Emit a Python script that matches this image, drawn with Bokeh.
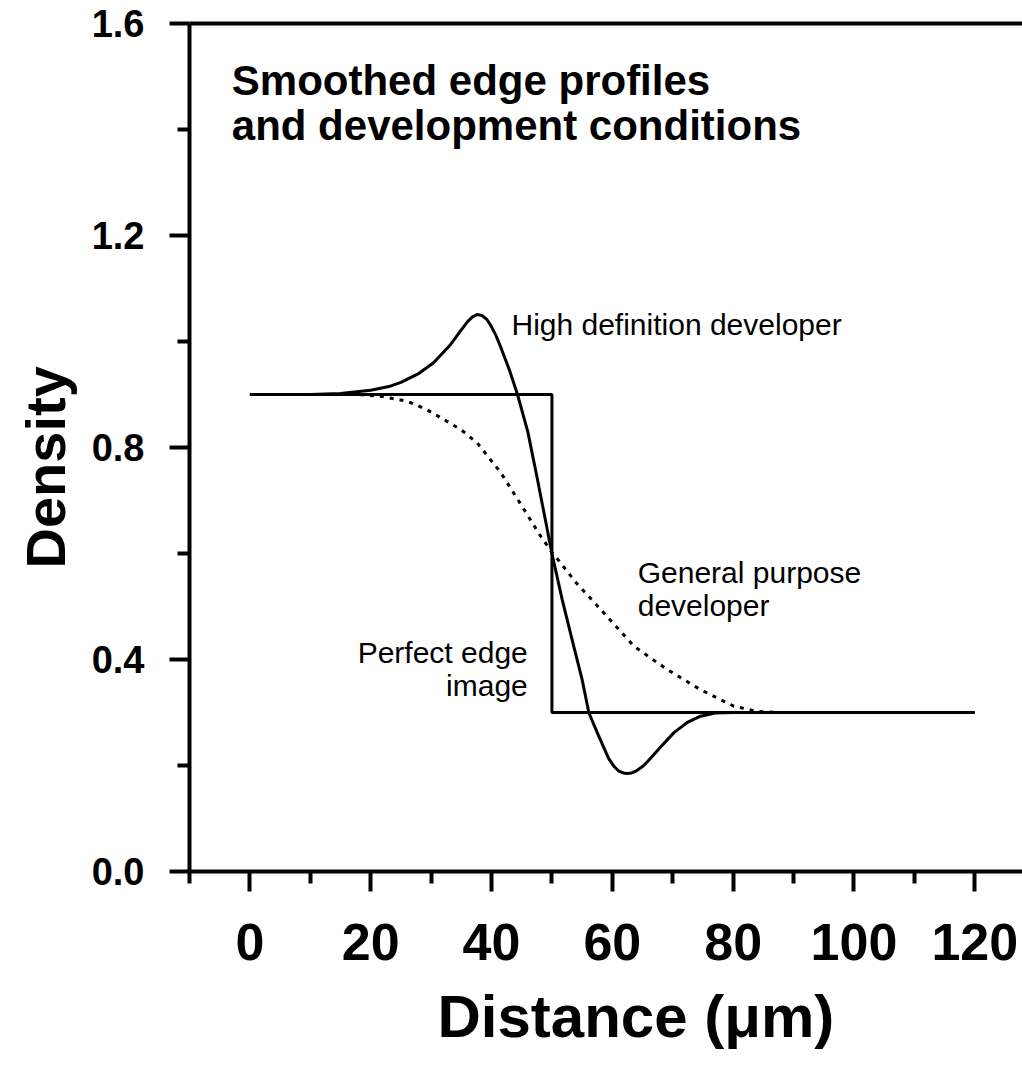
from bokeh.plotting import figure
from bokeh.models import FixedTicker, LinearAxis, Range1d, Label, Title, NumeralTickFormatter
from bokeh.embed import file_html
from bokeh.resources import INLINE

# ---- data ----
step_x = [0, 50, 50, 120]
step_y = [0.9, 0.9, 0.3, 0.3]

hd_x = [0, 10, 15, 20, 23, 25, 28, 30.4, 33.2, 35, 36, 36.8, 37.6, 38.4, 39.2, 39.9, 40.7, 41.5, 43, 44.3, 46, 47.6,
        50, 51.7, 53.5, 55, 56.1, 57.5, 58.5, 59.4, 60.3, 61, 61.8, 62.5, 63.2, 64, 65, 65.8, 68, 70.2, 72.5, 74.6,
        77, 80, 120]
hd_y = [0.9, 0.9, 0.902, 0.908, 0.915, 0.923, 0.94, 0.96, 0.994, 1.022, 1.037, 1.046, 1.051, 1.049, 1.042, 1.03,
        1.012, 0.99, 0.945, 0.9, 0.83, 0.74,
        0.6, 0.513, 0.43, 0.362, 0.30, 0.262, 0.236, 0.213, 0.198, 0.19, 0.186, 0.185, 0.186, 0.19, 0.198, 0.207,
        0.235, 0.262, 0.282, 0.293, 0.299, 0.30, 0.30]

gp_x = [0, 18, 22, 26.1, 29, 32.1, 35, 37.6, 41.5, 45, 48, 50, 51.1, 54, 58.1, 63.6, 69.1, 74.6, 80.1, 84, 88, 120]
gp_y = [0.9, 0.9, 0.896, 0.887, 0.873, 0.853, 0.833, 0.809, 0.753, 0.69, 0.635, 0.602, 0.587, 0.545, 0.494,
        0.425, 0.381, 0.343, 0.312, 0.302, 0.3, 0.3]

x_major = [0, 20, 40, 60, 80, 100, 120]
x_minor = [-10, 10, 30, 50, 70, 90, 110]
y_major = [0.0, 0.4, 0.8, 1.2, 1.6]
y_minor = [0.2, 0.6, 1.0, 1.4]

FONT = "Liberation Sans"

p = figure(width=1022, height=1068, output_backend="svg", toolbar_location=None,
           x_range=Range1d(-10, 127.9), y_range=Range1d(0, 1.6),
           min_border_left=189, min_border_right=0, min_border_top=23, min_border_bottom=197)
p.outline_line_color = None
p.xgrid.visible = False
p.ygrid.visible = False
p.background_fill_color = "white"
p.border_fill_color = "white"

for ax, maj, mnr in ((p.xaxis[0], x_major, x_minor), (p.yaxis[0], y_major, y_minor)):
    ax.ticker = FixedTicker(ticks=maj, minor_ticks=mnr)
    ax.axis_line_width = 4
    ax.axis_line_color = "black"
    ax.major_tick_line_width = 4
    ax.minor_tick_line_width = 4
    ax.major_tick_in = 0
    ax.minor_tick_in = 0
    ax.major_tick_out = 20
    ax.minor_tick_out = 12
    ax.major_label_text_font = FONT
    ax.major_label_text_font_style = "bold"
    ax.major_label_text_color = "black"

p.xaxis[0].major_label_text_font_size = "52px"
p.yaxis[0].major_label_text_font_size = "38px"
p.xaxis[0].major_label_standoff = 32
p.yaxis[0].major_label_standoff = 25
p.yaxis[0].formatter = NumeralTickFormatter(format="0.0")

top = LinearAxis(ticker=FixedTicker(ticks=[]), axis_line_width=4, major_tick_out=0, minor_tick_out=0,
                 major_label_text_font_size="0px")
p.add_layout(top, "above")

p.add_layout(Title(text="Distance (μm)", align="left", offset=248, text_font=FONT, text_color="black",
                   text_font_style="bold", text_font_size="60px", standoff=37), "below")
p.add_layout(Title(text="Density", align="left", offset=303, text_font=FONT, text_color="black",
                   text_font_style="bold", text_font_size="56px", standoff=23), "left")

p.line(step_x, step_y, line_color="black", line_width=3)
p.line(hd_x, hd_y, line_color="black", line_width=3, line_join="round")
p.line(gp_x, gp_y, line_color="black", line_width=3, line_dash="4 6")

def lab(x, y, t, size="30px", style="normal", align="left"):
    p.add_layout(Label(x=x, y=y + 0.0226, text=t, text_font=FONT, text_font_size=size,
                       text_font_style=style, text_align=align, text_baseline="alphabetic",
                       text_color="black"))

lab(-3.0, 1.47, "Smoothed edge profiles", "42px", "bold")
lab(-3.0, 1.385, "and development conditions", "42px", "bold")
lab(43.3, 1.009, "High definition developer")
lab(64.2, 0.5415, "General purpose")
lab(64.2, 0.479, "developer")
lab(46.0, 0.3906, "Perfect edge", align="right")
lab(46.0, 0.328, "image", align="right")

open("out.html", "w").write(file_html(p, INLINE))
